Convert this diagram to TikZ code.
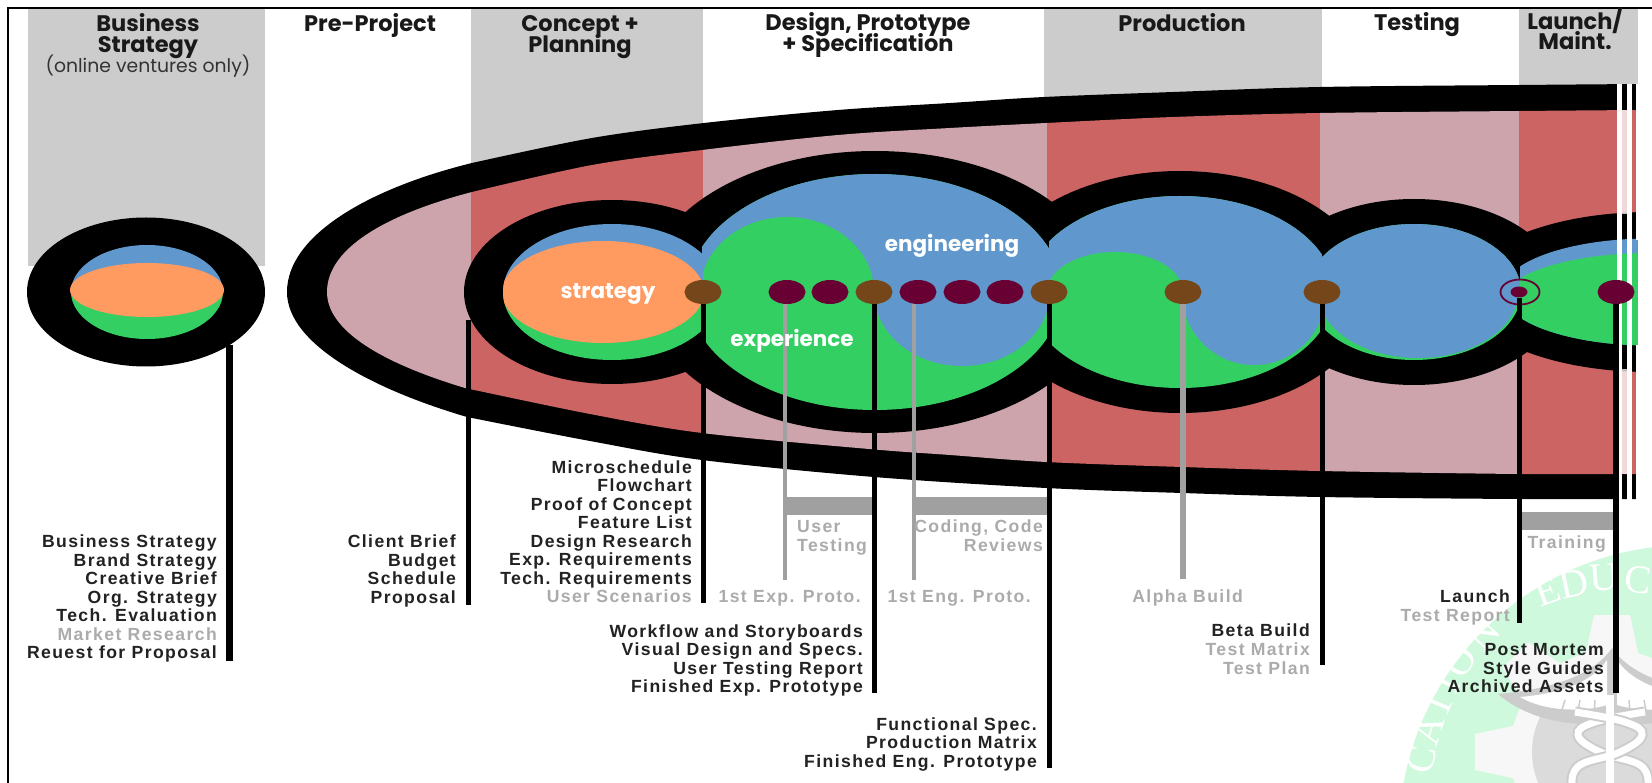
\documentclass[tikz,border=0pt]{standalone}
\usepackage{fontspec}
\setmainfont{Liberation Sans}
\newfontfamily\labfont[LetterSpace=8]{Liberation Sans}
\newfontfamily\hdfont{Poppins}
\newfontfamily\wmfont{Liberation Serif}
\definecolor{cblue}{HTML}{6098CE}
\definecolor{cgreen}{HTML}{33CF63}
\definecolor{corange}{HTML}{FF9A60}
\definecolor{cred}{HTML}{CC6464}
\definecolor{cpink}{HTML}{CDA4AB}
\definecolor{cband}{HTML}{CCCCCC}
\definecolor{cbrown}{HTML}{74461A}
\definecolor{cmaroon}{HTML}{680033}
\definecolor{cmint}{HTML}{CFF9DC}
\definecolor{cdark}{HTML}{222222}
\definecolor{clight}{HTML}{ABABAB}
\definecolor{cline}{HTML}{A0A0A0}
\tikzset{
  lab/.style={font=\labfont\bfseries\fontsize{17.6}{19}\selectfont,anchor=east,inner sep=0pt,text height=12pt,text depth=3pt},
  dk/.style={lab,text=cdark},
  lt/.style={lab,text=clight},
  hd/.style={font=\hdfont\bfseries\fontsize{22.5}{24}\selectfont,text=black!90,inner sep=0pt,anchor=center,text height=16pt,text depth=5pt},
  wl/.style={font=\hdfont\bfseries\fontsize{21.5}{24}\selectfont,text=white,inner sep=0pt,anchor=center},
  wm/.style={font=\wmfont\fontsize{40}{40}\selectfont,text=white,inner sep=0pt,anchor=center},
  brown dot/.style={ellipse,fill=cbrown,minimum width=37pt,minimum height=24pt,inner sep=0pt},
  maroon dot/.style={ellipse,fill=cmaroon,minimum width=37pt,minimum height=24pt,inner sep=0pt},
  conn/.style={draw=black,line width=5pt},
  gconn/.style={draw=cline,line width=4.5pt},
  gbar/.style={fill=cline},
}
\usetikzlibrary{shapes.geometric}
\begin{document}
\begin{tikzpicture}[x=1pt,y=-1pt]
\useasboundingbox (0,0) rectangle (1652,783);
\fill[white] (0,0) rectangle (1652,783);

% ---- seal in the background
\begin{scope}
\clip (0,0) rectangle (1652,783);
\fill[cmint] (1689,835) circle [radius=290];
\foreach \a in {0,45,...,315}{
  \begin{scope}[shift={(1612,752)},rotate=\a]
    \fill[white!97!black] (-27,-95) -- (-18,-137) -- (18,-137) -- (27,-95) -- cycle;
  \end{scope}
}
\fill[white!97!black] (1612,752) circle [radius=102];
\fill[white!86!black] (1612,752) circle [radius=80];
% wings
\fill[white!80!black] (1498,694) .. controls (1540,690) and (1590,680) .. (1612,648) -- (1612,722) .. controls (1580,728) and (1530,722) .. (1498,694) -- cycle;
\fill[white!80!black] (1726,694) .. controls (1684,690) and (1634,680) .. (1612,648) -- (1612,722) .. controls (1644,728) and (1694,722) .. (1726,694) -- cycle;
\fill[white] (1520,697) .. controls (1555,694) and (1590,685) .. (1607,660) -- (1607,705) .. controls (1585,712) and (1545,712) .. (1520,697) -- cycle;
\fill[white] (1704,697) .. controls (1669,694) and (1634,685) .. (1617,660) -- (1617,705) .. controls (1639,712) and (1679,712) .. (1704,697) -- cycle;
\foreach \xa/\xb in {1565/1560,1580/1577,1595/1594,1629/1630,1644/1647}{
  \draw[white!80!black,line width=1.5pt] (\xa,700) -- (\xb,716);
}
% caduceus
\draw[white!80!black,line width=11pt] plot[smooth,tension=.7] coordinates {(1645,712) (1595,722) (1578,735) (1600,752) (1640,765) (1648,783)};
\draw[white,line width=7pt] plot[smooth,tension=.7] coordinates {(1645,712) (1595,722) (1578,735) (1600,752) (1640,765) (1648,783)};
\draw[white!80!black,line width=11pt] plot[smooth,tension=.7] coordinates {(1575,712) (1625,722) (1642,735) (1620,752) (1580,765) (1572,783)};
\draw[white,line width=7pt] plot[smooth,tension=.7] coordinates {(1575,712) (1625,722) (1642,735) (1620,752) (1580,765) (1572,783)};
\fill[white] (1606,695) rectangle (1614,783);
% lettering of the seal
\node[wm,rotate=20] (wE) at (1547,591) {E};
\node[wm,rotate=12] (wD) at (1574,584) {D};
\node[wm,rotate=4]  (wU) at (1604,578) {U};
\node[wm,rotate=-6] (wC) at (1638,580) {C};
\node[wm,rotate=48] (wN) at (1483,634) {N};
\node[wm,rotate=58] (wO) at (1460,661) {O};
\node[wm,rotate=63] (wI) at (1447,684) {I};
\node[wm,rotate=67] (wT) at (1438,704) {T};
\node[wm,rotate=72] (wA) at (1428,730) {A};
\node[wm,rotate=78] (wCC) at (1421,760) {C};
\end{scope}

% ---- column bands at the top
\fill[cband] (28,9) rectangle (265,266);
\fill[cband] (471,9) rectangle (703,180);
\fill[cband] (1044,9) rectangle (1322,100);
\fill[cband] (1519,9) rectangle (1638,90);

% ---- frame
\draw[black,line width=2pt] (8,783) -- (8,8) -- (1652,8);

% ---- business strategy ellipse
\fill[black] (146,292) ellipse [x radius=119,y radius=74.5];
\begin{scope}
\clip (147,292) ellipse [x radius=76,y radius=47];
\fill[cblue] (60,230) rectangle (240,292);
\fill[cgreen] (60,292) rectangle (240,350);
\end{scope}
\fill[corange] (147,290) ellipse [x radius=77,y radius=27];

% ---- big envelope
\fill[black] plot[smooth,tension=.55] coordinates {(1640,84) (1519,85) (1320,87) (1173,92) (1044,97) (950,103) (838,110) (704,123) (592,138) (472,163)} .. controls (370,188) and (287,235) .. (287,292) .. controls (287,345) and (375,390) .. (467,417) -- plot[smooth,tension=.55] coordinates {(467,417) (590,441) (702,460) (874,477) (1046,488) (1182,493) (1320,497) (1519,499) (1640,499)} -- cycle;
\begin{scope}
\clip plot[smooth,tension=.55] coordinates {(1640,110) (1519,111) (1320,113) (1173,117) (1046,123) (950,128) (838,135) (702,150) (592,165) (472,192)} .. controls (395,212) and (327,245) .. (327,292) .. controls (327,335) and (395,367) .. (465,388) -- plot[smooth,tension=.55] coordinates {(465,388) (590,414) (702,433) (869,449) (950,455) (1046,462) (1182,467) (1320,471) (1519,474) (1640,474)} -- cycle;
\fill[cpink] (300,80) rectangle (471,510);
\fill[cred] (471,80) rectangle (703,510);
\fill[cpink] (703,80) rectangle (1047,510);
\fill[cred] (1047,80) rectangle (1320,510);
\fill[cpink] (1320,80) rectangle (1519,510);
\fill[cred] (1519,80) rectangle (1640,510);
\end{scope}

% ---- black outlines of the bubbles
\fill[black] (612,292) ellipse [x radius=148,y radius=92];
\fill[black] (875,292) ellipse [x radius=230,y radius=141];
\fill[black] (1180,292) ellipse [x radius=192,y radius=121];
\fill[black] (1414,292) ellipse [x radius=148,y radius=93];
\fill[black] (1650,292) ellipse [x radius=186,y radius=80];

% ---- bubble 2
\begin{scope}
\clip (702,0) rectangle (1049,783);
\clip (875,292) ellipse [x radius=187,y radius=118];
\fill[cgreen] (650,150) rectangle (1100,430);
\fill[cblue] (650,150) rectangle (1100,292);
\fill[cgreen] (787,292) ellipse [x radius=87,y radius=75];
\fill[cblue] (962,292) ellipse [x radius=88,y radius=74];
\end{scope}
% ---- bubble 1
\begin{scope}
\clip (400,0) rectangle (703,783);
\clip (612,292) ellipse [x radius=109,y radius=68];
\fill[cblue] (480,200) rectangle (730,292);
\fill[cgreen] (480,292) rectangle (730,380);
\fill[corange] (603,292) ellipse [x radius=101,y radius=51];
\end{scope}
% ---- bubble 3
\begin{scope}
\clip (1049,0) rectangle (1322,783);
\clip (1180,292) ellipse [x radius=154,y radius=96];
\fill[cgreen] (1000,180) rectangle (1350,400);
\fill[cblue] (1000,180) rectangle (1350,292);
\fill[cgreen] (1115,292) ellipse [x radius=68,y radius=40];
\fill[cblue] (1254,292) ellipse [x radius=72,y radius=73];
\end{scope}
% ---- bubble 4
\begin{scope}
\clip (1322,0) rectangle (1520,783);
\clip (1414,292) ellipse [x radius=107,y radius=68];
\fill[cgreen] (1300,200) rectangle (1540,380);
\fill[cblue] (1300,200) rectangle (1540,292);
\fill[cblue] (1418,292) ellipse [x radius=100,y radius=66];
\end{scope}
% ---- bubble 5
\begin{scope}
\clip (1520,0) rectangle (1652,783);
\clip (1650,292) ellipse [x radius=148,y radius=53.5];
\fill[cblue] (1500,220) rectangle (1652,360);
\fill[cgreen] (1650,300) ellipse [x radius=146,y radius=47];
\end{scope}

% ---- right-hand strips
\fill[white] (1617,84) rectangle (1622,500);
\fill[white] (1627,84) rectangle (1632,500);
\fill[white] (1636,84) rectangle (1652,240);
\fill[white] (1638,240) rectangle (1652,345);
\fill[white] (1636,345) rectangle (1652,500);
\fill[white,opacity=.75] (1622,110) rectangle (1627,214);
\fill[white,opacity=.75] (1622,369) rectangle (1627,474);

% ---- grey bars
\fill[gbar] (785,497) rectangle (873,515);
\fill[gbar] (914,497) rectangle (1048,515);
\fill[gbar] (1519,512) rectangle (1616,530);

% ---- dots
\node[brown dot] (b1) at (703,292) {};
\node[maroon dot] (m1) at (787,292) {};
\node[maroon dot] (m2) at (830,292) {};
\node[brown dot] (b2) at (874,292) {};
\node[maroon dot] (m3) at (918,292) {};
\node[maroon dot] (m4) at (962,292) {};
\node[maroon dot] (m5) at (1005,292) {};
\node[brown dot] (b3) at (1049,292) {};
\node[brown dot] (b4) at (1183,292) {};
\node[brown dot] (b5) at (1322,292) {};
\node[ellipse,fill=cmaroon,minimum width=17pt,minimum height=11pt,inner sep=0pt] (m6) at (1519,292) {};
\node[ellipse,draw=cmaroon,line width=1.8pt,minimum width=39pt,minimum height=25pt,inner sep=0pt] (r6) at (1520,292) {};
\node[maroon dot] (m7) at (1616,292) {};

% ---- connector ends
\coordinate (sa) at (229,345);
\coordinate (ea) at (229,661);
\coordinate (sb) at (468,320);
\coordinate (eb) at (468,605);
\coordinate (ec) at (703,603);
\coordinate (ed) at (874,693);
\coordinate (ee) at (1049,768);
\coordinate (ef) at (1322,665);
\coordinate (eg) at (1519,623);
\coordinate (eh) at (1616,693);
\coordinate (g1) at (785,580);
\coordinate (g2) at (914,580);
\coordinate (g3) at (1183,579);

\draw[conn,line width=7pt] (sa) -- (ea);
\draw[conn] (sb) -- (eb);
\draw[conn] (b1.south) -- (ec);
\draw[conn] (b2.south) -- (ed);
\draw[conn] (b3.south) -- (ee);
\draw[conn] (b5.south) -- (ef);
\draw[conn] (m6.south) -- (eg);
\draw[conn,line width=6pt] (m7.south) -- (eh);
\draw[gconn] (g1 |- m1.south) -- (g1);
\draw[gconn] (g2 |- m3.south) -- (g2);
\draw[gconn,line width=6pt] (b4.south) -- (g3);

% ---- headers
\node[hd] (h1a) at (148,26) {Business};
\node[hd] (h1b) at (148,47) {Strategy};
\node[font=\hdfont\fontsize{18.8}{20}\selectfont,text=black!80,inner sep=0pt,anchor=base] (h1c) at (148,73) {(online ventures only)};
\node[hd] (h2) at (370,26) {Pre-Project};
\node[hd] (h3a) at (580,26) {Concept +};
\node[hd] (h3b) at (580,47) {Planning};
\node[hd] (h4a) at (868,25.5) {Design, Prototype};
\node[hd] (h4b) at (868,46.5) {+ Specification};
\node[hd] (h5) at (1182,26) {Production};
\node[hd] (h6) at (1417,25.5) {Testing};
\node[hd] (h7a) at (1575,24.5) {Launch/};
\node[hd] (h7b) at (1575,44.5) {Maint.};

% ---- bubble words
\node[wl] (w1) at (608,294) {strategy};
\node[wl] (w2) at (952,246) {engineering};
\node[wl] (w3) at (792,341) {experience};

% ---- labels
\node[dk] (a1) at (217,543) {Business Strategy};
\node[dk] (a2) at (217,562) {Brand Strategy};
\node[dk] (a3) at (217,580) {Creative Brief};
\node[dk] (a4) at (217,599) {Org. Strategy};
\node[dk] (a5) at (217,617) {Tech. Evaluation};
\node[lt] (a6) at (217,636) {Market Research};
\node[dk] (a7) at (217,654) {Reuest for Proposal};

\node[dk] (c1) at (456,543) {Client Brief};
\node[dk] (c2) at (456,562) {Budget};
\node[dk] (c3) at (456,580) {Schedule};
\node[dk] (c4) at (456,599) {Proposal};

\node[dk] (d1) at (692,469) {Microschedule};
\node[dk] (d2) at (692,487) {Flowchart};
\node[dk] (d3) at (692,506) {Proof of Concept};
\node[dk] (d4) at (692,524) {Feature List};
\node[dk] (d5) at (692,543) {Design Research};
\node[dk] (d6) at (692,561) {Exp. Requirements};
\node[dk] (d7) at (692,580) {Tech. Requirements};
\node[lt] (d8) at (692,598) {User Scenarios};

\node[lt] (p1) at (861,598) {1st Exp. Proto.};
\node[lt] (p2) at (1031,598) {1st Eng. Proto.};
\node[lt,anchor=west] (u1) at (797,528) {User};
\node[lt,anchor=west] (u2) at (797,547) {Testing};
\node[lt] (r1) at (1043,528) {Coding, Code};
\node[lt] (r2) at (1043,547) {Reviews};

\node[dk] (f1) at (863,633) {Workflow and Storyboards};
\node[dk] (f2) at (863,651) {Visual Design and Specs.};
\node[dk] (f3) at (863,670) {User Testing Report};
\node[dk] (f4) at (863,688) {Finished Exp. Prototype};

\node[dk] (s1) at (1037,726) {Functional Spec.};
\node[dk] (s2) at (1037,744) {Production Matrix};
\node[dk] (s3) at (1037,763) {Finished Eng. Prototype};

\node[lt] (al) at (1243,598) {Alpha Build};
\node[dk] (be) at (1310,632) {Beta Build};
\node[lt] (tm) at (1310,651) {Test Matrix};
\node[lt] (tp) at (1310,670) {Test Plan};

\node[lt] (tr) at (1606,544) {Training};
\node[dk] (la) at (1510,598) {Launch};
\node[lt] (te) at (1510,617) {Test Report};
\node[dk] (po) at (1604,651) {Post Mortem};
\node[dk] (st) at (1604,670) {Style Guides};
\node[dk] (ar) at (1604,688) {Archived Assets};
\end{tikzpicture}
\end{document}
